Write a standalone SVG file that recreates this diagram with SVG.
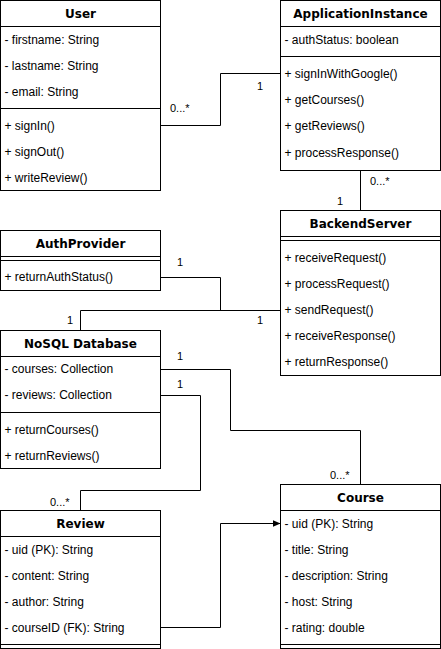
<svg xmlns="http://www.w3.org/2000/svg" width="441" height="649" viewBox="0 0 441 649">
<style>
.box{fill:#fff;stroke:#000;stroke-width:1}
.ln{stroke:#000;stroke-width:1;fill:none}
.t{font-family:"Liberation Sans",Arial,sans-serif;font-size:12px;fill:#000}
.h{font-family:"DejaVu Sans",Verdana,sans-serif;font-size:12px;font-weight:bold;fill:#000;text-anchor:middle}
.lb{font-family:"Liberation Sans",Arial,sans-serif;font-size:11px;fill:#000}
</style>
<defs>
<marker id="arr" markerWidth="8" markerHeight="8" refX="8" refY="4" orient="auto" markerUnits="userSpaceOnUse"><path d="M0,0.5 L8,4 L0,7.5 Z" fill="#000"/></marker>
</defs>
<rect width="441" height="649" fill="#fff"/>
<g id="connectors">
<path class="ln" d="M160.5 125.5 H220.5 V73.5 H280.5"/>
<path class="ln" d="M360.5 170.5 V210.5"/>
<path class="ln" d="M160.5 277.5 H220.5 V310.5 H280.5"/>
<path class="ln" d="M80.5 330.5 V310.5 H280.5"/>
<path class="ln" d="M160.5 369.5 H230.5 V430.5 H360.5 V484.5"/>
<path class="ln" d="M160.5 395.5 H200.5 V490.5 H80.5 V510.5"/>
<path class="ln" d="M160.5 627.5 H220.5 V523.5 H280.5" marker-end="url(#arr)"/>
<text class="lb" x="170" y="112">0...*</text>
<text class="lb" x="257" y="90">1</text>
<text class="lb" x="370" y="185">0...*</text>
<text class="lb" x="337" y="205">1</text>
<text class="lb" x="177" y="266">1</text>
<text class="lb" x="67" y="324">1</text>
<text class="lb" x="257" y="324">1</text>
<text class="lb" x="177" y="360">1</text>
<text class="lb" x="177" y="388">1</text>
<text class="lb" x="330" y="479">0...*</text>
<text class="lb" x="50" y="506">0...*</text>
</g>
<g id="User">
<rect class="box" x="0.5" y="0.5" width="160" height="190"/>
<path class="ln" d="M0.5 26.5 H160.5 M0.5 108.5 H160.5"/>
<text class="h" x="80.5" y="17.5">User</text>
<text class="t" x="4.5" y="44">- firstname: String</text>
<text class="t" x="4.5" y="70">- lastname: String</text>
<text class="t" x="4.5" y="96">- email: String</text>
<text class="t" x="4.5" y="129.5">+ signIn()</text>
<text class="t" x="4.5" y="155.5">+ signOut()</text>
<text class="t" x="4.5" y="181.5">+ writeReview()</text>
</g>
<g id="ApplicationInstance">
<rect class="box" x="280.5" y="0.5" width="160" height="170"/>
<path class="ln" d="M280.5 26.5 H440.5 M280.5 56.5 H440.5"/>
<text class="h" x="360.5" y="17.5">ApplicationInstance</text>
<text class="t" x="284.5" y="44">- authStatus: boolean</text>
<text class="t" x="284.5" y="78">+ signInWithGoogle()</text>
<text class="t" x="284.5" y="104">+ getCourses()</text>
<text class="t" x="284.5" y="130">+ getReviews()</text>
<text class="t" x="284.5" y="156.5">+ processResponse()</text>
</g>
<g id="BackendServer">
<rect class="box" x="280.5" y="210.5" width="160" height="165"/>
<path class="ln" d="M280.5 236.5 H440.5 M280.5 240.5 H440.5"/>
<text class="h" x="360.5" y="227.5">BackendServer</text>
<text class="t" x="284.5" y="262">+ receiveRequest()</text>
<text class="t" x="284.5" y="288">+ processRequest()</text>
<text class="t" x="284.5" y="314">+ sendRequest()</text>
<text class="t" x="284.5" y="340">+ receiveResponse()</text>
<text class="t" x="284.5" y="366">+ returnResponse()</text>
</g>
<g id="AuthProvider">
<rect class="box" x="0.5" y="230.5" width="160" height="60"/>
<path class="ln" d="M0.5 256.5 H160.5 M0.5 260.5 H160.5"/>
<text class="h" x="80.5" y="247.5">AuthProvider</text>
<text class="t" x="4.5" y="281">+ returnAuthStatus()</text>
</g>
<g id="NoSQLDatabase">
<rect class="box" x="0.5" y="330.5" width="160" height="138"/>
<path class="ln" d="M0.5 356.5 H160.5 M0.5 412.5 H160.5"/>
<text class="h" x="80.5" y="347.5">NoSQL Database</text>
<text class="t" x="4.5" y="373">- courses: Collection</text>
<text class="t" x="4.5" y="399">- reviews: Collection</text>
<text class="t" x="4.5" y="433.5">+ returnCourses()</text>
<text class="t" x="4.5" y="459.5">+ returnReviews()</text>
</g>
<g id="Review">
<rect class="box" x="0.5" y="510.5" width="160" height="138"/>
<path class="ln" d="M0.5 536.5 H160.5 M0.5 644.5 H160.5"/>
<text class="h" x="80.5" y="527.5">Review</text>
<text class="t" x="4.5" y="553.5">- uid (PK): String</text>
<text class="t" x="4.5" y="579.5">- content: String</text>
<text class="t" x="4.5" y="605.5">- author: String</text>
<text class="t" x="4.5" y="631.5">- courseID (FK): String</text>
</g>
<g id="Course">
<rect class="box" x="280.5" y="484.5" width="160" height="164"/>
<path class="ln" d="M280.5 510.5 H440.5 M280.5 644.5 H440.5"/>
<text class="h" x="360.5" y="501.5">Course</text>
<text class="t" x="284.5" y="527.5">- uid (PK): String</text>
<text class="t" x="284.5" y="553.5">- title: String</text>
<text class="t" x="284.5" y="579.5">- description: String</text>
<text class="t" x="284.5" y="605.5">- host: String</text>
<text class="t" x="284.5" y="631.5">- rating: double</text>
</g>
</svg>
